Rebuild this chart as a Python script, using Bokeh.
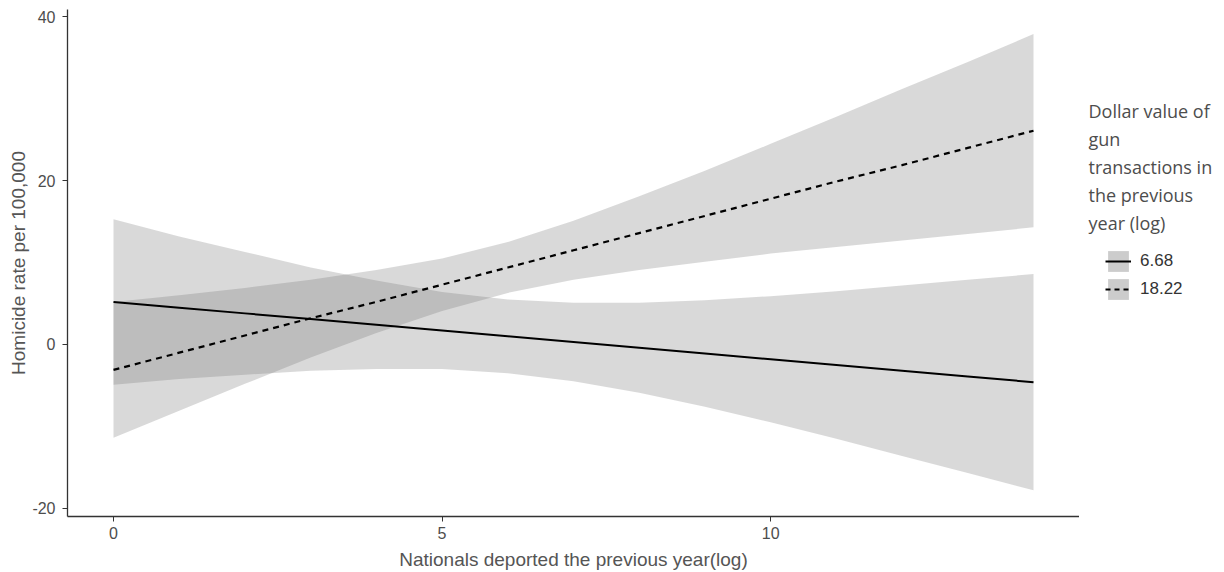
from bokeh.plotting import figure
from bokeh.models import Range1d, FixedTicker, Label, Legend, LegendItem, ColumnDataSource, PrintfTickFormatter
from bokeh.layouts import row
from bokeh.embed import file_html
from bokeh.resources import INLINE

# Nationals deported the previous year (log)
deported = [0, 1, 2, 3, 4, 5, 6, 7, 8, 9, 10, 11, 12, 13, 14]

# Gun transactions = 6.68 (solid line)
fit_low = [5.2, 4.5, 3.8, 3.1, 2.4, 1.7, 1.0, 0.3, -0.4, -1.1, -1.8, -2.5, -3.2, -3.9, -4.6]
lo_low = [-4.9, -4.2, -3.7, -3.2, -3.0, -3.0, -3.5, -4.5, -5.9, -7.6, -9.5, -11.5, -13.6, -15.7, -17.8]
hi_low = [15.3, 13.2, 11.3, 9.4, 7.8, 6.4, 5.5, 5.1, 5.1, 5.4, 5.9, 6.5, 7.2, 7.9, 8.6]

# Gun transactions = 18.22 (dashed line)
fit_high = [-3.1, -1.0, 1.1, 3.2, 5.2, 7.3, 9.4, 11.5, 13.6, 15.7, 17.8, 19.9, 21.9, 24.0, 26.1]
lo_high = [-11.4, -8.1, -4.8, -1.6, 1.4, 4.1, 6.3, 7.9, 9.1, 10.1, 11.1, 11.9, 12.7, 13.5, 14.3]
hi_high = [5.2, 6.0, 6.9, 7.9, 9.1, 10.5, 12.5, 15.1, 18.1, 21.2, 24.5, 27.8, 31.2, 34.5, 37.9]

legend_labels = ["6.68", "18.22"]
legend_title = ["Dollar value of", "gun", "transactions in", "the previous", "year (log)"]
x_ticks = [0, 5, 10]
y_ticks = [-20, 0, 20, 40]

H = 572
TOP, BOTTOM = 9, 55
PW = 1079   # main figure width (frame ends at its right edge)
QW = 137    # legend panel width

p = figure(width=PW, height=H, output_backend="svg", toolbar_location=None,
           x_range=Range1d(-0.7, 14.7), y_range=Range1d(-21, 40.9),
           min_border_left=67, min_border_right=0, min_border_top=TOP, min_border_bottom=BOTTOM,
           x_axis_label="Nationals deported the previous year(log)",
           y_axis_label="Homicide rate per 100,000")
p.outline_line_color = None
p.grid.visible = False

src = ColumnDataSource(dict(x=deported, fl=fit_low, ll=lo_low, hl=hi_low,
                            fh=fit_high, lh=lo_high, hh=hi_high))

band_fill = "#6f6f6f"
band_alpha = 0.263
p.varea(x="x", y1="ll", y2="hl", source=src, fill_color=band_fill, fill_alpha=band_alpha)
p.varea(x="x", y1="lh", y2="hh", source=src, fill_color=band_fill, fill_alpha=band_alpha)
p.line(x="x", y="fl", source=src, line_color="black", line_width=2)
p.line(x="x", y="fh", source=src, line_color="black", line_width=2.2, line_dash="6 5")

for ax in (p.xaxis[0], p.yaxis[0]):
    ax.axis_line_color = "#333333"
    ax.axis_line_width = 1.3
    ax.major_tick_line_color = "#333333"
    ax.major_tick_in = 0
    ax.major_tick_out = 5
    ax.minor_tick_line_color = None
    ax.major_label_text_font = "Liberation Sans"
    ax.major_label_text_font_size = "16px"
    ax.major_label_text_color = "#4d4d4d"
    ax.axis_label_text_font = "Liberation Sans"
    ax.axis_label_text_font_size = "19px"
    ax.axis_label_text_font_style = "normal"
    ax.axis_label_text_color = "#555555"
    ax.formatter = PrintfTickFormatter(format="%d")
p.yaxis.major_label_standoff = 7
p.yaxis.axis_label_standoff = 0
p.xaxis.major_label_standoff = 5
p.xaxis.axis_label_standoff = 7
p.xaxis.ticker = FixedTicker(ticks=x_ticks)
p.yaxis.ticker = FixedTicker(ticks=y_ticks)

# legend panel on the right; its frame is aligned with the main frame (rows align frames)
q = figure(width=QW, height=H, output_backend="svg", toolbar_location=None,
           x_range=Range1d(PW, PW + QW), y_range=Range1d(H - BOTTOM, TOP),
           min_border_left=0, min_border_right=0, min_border_top=TOP, min_border_bottom=BOTTOM,
           x_axis_location=None, y_axis_location=None)
q.outline_line_color = None
q.grid.visible = False

nan = float("nan")
dummy = ColumnDataSource(dict(x=[nan], y1=[nan], y2=[nan], y=[nan]))
k_area = q.varea(x="x", y1="y1", y2="y2", source=dummy, fill_color="#cccccc", fill_alpha=1)
k_solid = q.line(x="x", y="y", source=dummy, line_color="black", line_width=2)
k_dash = q.line(x="x", y="y", source=dummy, line_color="black", line_width=2, line_dash="5 4")
legend = Legend(items=[LegendItem(label=legend_labels[0], renderers=[k_area, k_solid]),
                       LegendItem(label=legend_labels[1], renderers=[k_area, k_dash])],
                location=(26, (H - BOTTOM) - 303), glyph_width=26, glyph_height=26, label_height=26,
                spacing=2, padding=0, margin=0, label_standoff=9,
                label_text_font="Liberation Sans", label_text_font_size="17px",
                label_text_color="#333333", border_line_color=None, background_fill_alpha=0)
q.add_layout(legend, "center")

title_y = [111, 139, 167, 195, 223]
for txt, ty in zip(legend_title, title_y):
    q.add_layout(Label(x=1088, y=ty, text=txt, text_font="Open Sans", text_font_size="18px",
                       text_color="#4d4d4d", text_baseline="middle", text_align="left"))

layout = row(p, q)
open("out.html", "w").write(file_html(layout, INLINE))
